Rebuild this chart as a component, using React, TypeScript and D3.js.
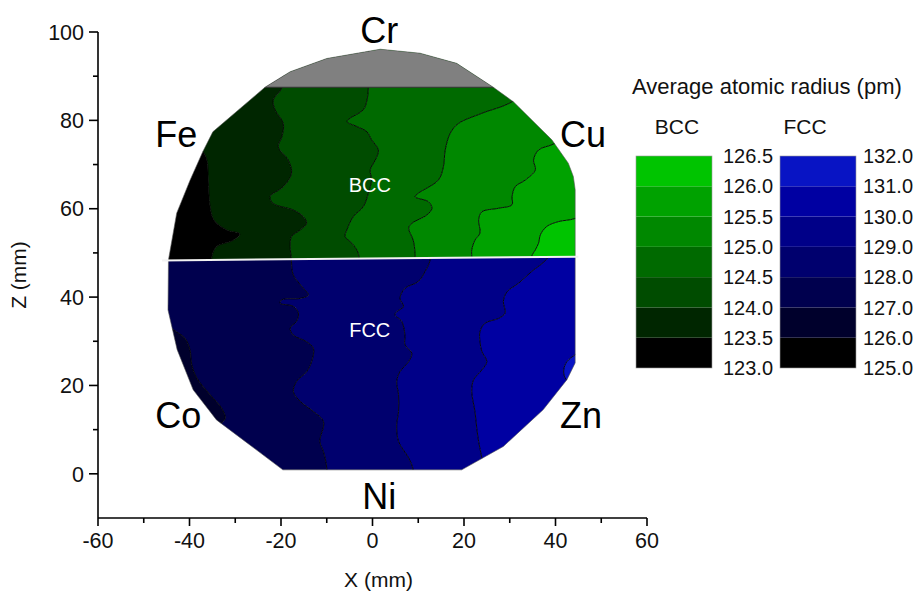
import React from "react";
import * as d3 from "d3";

type Pt = [number, number];

const W = 917;
const H = 596;

// Axis ticks (mm)
const X_MAJOR = [-60, -40, -20, 0, 20, 40, 60];
const X_MINOR = [-50, -30, -10, 10, 30, 50];
const Z_MAJOR = [0, 20, 40, 60, 80, 100];
const Z_MINOR = [10, 30, 50, 70, 90];

// Colour-bar levels (pm) and fills
const BCC_LEVELS = [123.0, 123.5, 124.0, 124.5, 125.0, 125.5, 126.0, 126.5];
const FCC_LEVELS = [125.0, 126.0, 127.0, 128.0, 129.0, 130.0, 131.0, 132.0];
const BCC_COLORS = ["#000000", "#002600", "#004c00", "#006a00", "#008800", "#00a200", "#00c400"];
const FCC_COLORS = ["#000000", "#00002c", "#00004e", "#00006e", "#000088", "#0000a2", "#0814c4"];

// Wafer outline, x/z in mm
const WAFER: Pt[] = [
  [-23.5, 87.5], [-18, 91], [-10, 94], [1.7, 96.1], [10.4, 95.2], [18.4, 92.9], [26.4, 87.5],
  [30.8, 84.2], [39.2, 75.6], [42.8, 70.3], [43.9, 67.3], [44.3, 64.3], [44.3, 25.1],
  [42.5, 21.3], [37.3, 14.5], [28.6, 6.2], [19.5, 0.9], [-19.6, 0.9], [-27.4, 7],
  [-34.1, 12.2], [-39.2, 19], [-42.7, 28.1], [-44.7, 37.1], [-44.6, 48.4], [-42.8, 59.0],
  [-39.9, 66.4], [-37.1, 72.9], [-34.9, 77.4],
];

// Phase boundary (BCC above, FCC below) and Cr cap edge
const DIVIDER: Pt[] = [[-46, 48.3], [45, 49.15]];
const CAP_Z = 87.5;

// BCC iso-radius contours (top to bottom)
const BCC_123_5: Pt[] = [[-70, 100], [-50, 82], [-37.3, 73.2], [-36.2, 71], [-35.9, 66.5], [-35.5, 60.5], [-34.7, 57.5], [-31.9, 55.2], [-29, 54.3], [-30.4, 52.9], [-34.1, 51.4], [-35.1, 49.2], [-35.1, 44]];
const BCC_124_0: Pt[] = [[-19.8, 100], [-19.8, 87.5], [-21.7, 84.6], [-21.3, 82.4], [-19.5, 79.3], [-19.8, 76.3], [-20.6, 74], [-18.4, 71], [-17.7, 68], [-19.5, 65], [-22.4, 62.7], [-21.7, 61.2], [-17.3, 59.7], [-15.1, 58.2], [-14.4, 56.7], [-15.8, 55.2], [-17.7, 53.7], [-18, 51.4], [-17.7, 48.4], [-17.7, 44]];
const BCC_124_5: Pt[] = [[-0.9, 100], [-0.9, 87.5], [-1.2, 84.6], [-2, 82.4], [-4.9, 80.5], [-5.6, 79.7], [-3.4, 78.6], [-1.2, 77.4], [-0.2, 75.6], [1.3, 73.3], [0.6, 71], [-0.5, 68.8], [-0.2, 66.5], [-0.9, 63.5], [-2, 60.5], [-4.2, 58.2], [-5.6, 55.2], [-6, 53.7], [-4.5, 52.2], [-3.1, 49.9], [-3, 44]];
const BCC_125_0: Pt[] = [[70, 100], [40, 92], [30.5, 84.2], [23.9, 81.6], [18.8, 79.3], [17, 77.1], [15.9, 73.3], [15.5, 69.5], [14.4, 66.5], [10, 63.5], [9.3, 62.7], [12.2, 61.6], [13, 60.1], [11.9, 58.6], [8.6, 56.7], [7.9, 55.6], [8.9, 52.9], [9.3, 49.9], [9.3, 44]];
const BCC_125_5: Pt[] = [[70, 95], [50, 82], [39.9, 74.8], [36.3, 73.3], [35.2, 71], [35.6, 68.8], [33.4, 66.5], [31.2, 65], [30.5, 62.7], [30.5, 60.9], [27.5, 60.1], [23.9, 59.3], [23.2, 57.5], [23.5, 54.5], [22.4, 52.9], [21.7, 50.7], [21.7, 49.2], [21.7, 44]];
const BCC_126_0: Pt[] = [[70, 90], [52, 62], [44.3, 57.8], [40.7, 57.1], [38.1, 56], [36.7, 54.1], [36.3, 52.2], [35.6, 50.7], [34.8, 49.2], [34.8, 44]];

// FCC iso-radius contours (top to bottom)
const FCC_127: Pt[] = [[-70, 60], [-50, 38], [-43.5, 32.6], [-41, 30.7], [-39.9, 28.1], [-39.5, 24.7], [-38.4, 21.7], [-35.5, 17.9], [-33, 14.9], [-32.2, 12.6], [-33.5, 11], [-45, 0], [-70, -10]];
const FCC_128: Pt[] = [[-17.7, 55], [-17.7, 48], [-17.3, 45], [-15.1, 42], [-14, 40.5], [-15.8, 39.7], [-19.8, 39.4], [-20.2, 38.6], [-17.3, 37.9], [-16.2, 36.4], [-16.6, 34.5], [-18, 33], [-17.3, 31.4], [-14.4, 29.9], [-12.9, 28.4], [-13.3, 25.4], [-14.4, 23.1], [-16.6, 20.9], [-17.3, 18.6], [-15.8, 16.4], [-12.9, 14.1], [-10.7, 11.8], [-11.5, 7.3], [-10.7, 5], [-10, 1.3], [-10, -10]];
const FCC_129: Pt[] = [[12.6, 55], [12.6, 48.4], [11.5, 45.8], [10, 43.5], [7.1, 42], [6, 39.7], [6.8, 37.9], [5.3, 36.7], [4.9, 36], [6.4, 34.5], [7.1, 31.4], [7.1, 29.2], [8.6, 27.3], [7.9, 25.4], [6, 23.1], [5.3, 20.9], [5.7, 17.9], [5.7, 14.1], [5.3, 11.1], [5.7, 7.3], [7.9, 3.6], [8.9, 0.9], [9, -10]];
const FCC_130: Pt[] = [[42, 55], [38.1, 48.6], [34.8, 45.8], [31.9, 43.1], [29.4, 41.2], [28.6, 39], [29, 36.4], [27.6, 35.2], [24.6, 34.1], [23.5, 32.2], [23.5, 29.9], [23.9, 27.7], [25, 25.4], [23.9, 23.5], [22.1, 21.3], [21.7, 18.6], [22.4, 14.1], [22.8, 10.3], [23.2, 7.3], [23.9, 3.6], [24.5, 0], [25, -10]];
const FCC_131: Pt[] = [[70, 55], [55, 35], [44.6, 27.2], [42.5, 25.4], [41.8, 23.5], [42.1, 21.7], [43.5, 20.3], [55, 10], [70, -10]];

const BCC_CONTOURS = [
  { level: 123.5, pts: BCC_123_5 },
  { level: 124.0, pts: BCC_124_0 },
  { level: 124.5, pts: BCC_124_5 },
  { level: 125.0, pts: BCC_125_0 },
  { level: 125.5, pts: BCC_125_5 },
  { level: 126.0, pts: BCC_126_0 },
];
const FCC_CONTOURS = [
  { level: 127, pts: FCC_127 },
  { level: 128, pts: FCC_128 },
  { level: 129, pts: FCC_129 },
  { level: 130, pts: FCC_130 },
  { level: 131, pts: FCC_131 },
];

const ELEMENTS = [
  { name: "Cr", x: 1.5, z: 97.5, anchor: "middle" },
  { name: "Fe", x: -47.5, z: 74, anchor: "start" },
  { name: "Cu", x: 41, z: 74, anchor: "start" },
  { name: "Co", x: -47.5, z: 10.3, anchor: "start" },
  { name: "Zn", x: 41, z: 10.3, anchor: "start" },
  { name: "Ni", x: 1.5, z: -8, anchor: "middle" },
];

const FONT = "'Liberation Sans', Arial, sans-serif";

export default function App() {
  const x = d3.scaleLinear().domain([-60, 60]).range([98, 647]);
  const z = d3.scaleLinear().domain([-10, 100]).range([518, 32]);

  const smooth = d3
    .line<Pt>()
    .x((d) => x(d[0]))
    .y((d) => z(d[1]))
    .curve(d3.curveCatmullRom.alpha(0.5));
  const straight = d3
    .line<Pt>()
    .x((d) => x(d[0]))
    .y((d) => z(d[1]));

  const band = (a: Pt[], b: Pt[]) =>
    (smooth(a) || "") + (smooth([...b].reverse()) || "").replace(/^M/, "L") + "Z";

  const divZ = d3.scaleLinear().domain([DIVIDER[0][0], DIVIDER[1][0]]).range([DIVIDER[0][1], DIVIDER[1][1]]);
  const bccClip: Pt[] = [[-70, 100], [70, 100], [70, divZ(70)], [-70, divZ(-70)]];
  const fccClip: Pt[] = [[-70, divZ(-70)], [70, divZ(70)], [70, -20], [-70, -20]];
  const capClip: Pt[] = [[-70, 110], [70, 110], [70, CAP_Z], [-70, CAP_Z]];

  function bands(
    contours: { level: number; pts: Pt[] }[],
    levels: number[],
    colors: string[],
    top: number,
    bottom: number
  ) {
    const step = levels[1] - levels[0];
    const farL: Pt[] = [[-70, top], [-70, bottom]];
    const farR: Pt[] = [[70, top], [70, bottom]];
    const edges = [farL, ...contours.map((c) => c.pts), farR];
    const lows = [contours[0].level - step, ...contours.map((c) => c.level)];
    return edges.slice(0, -1).map((e, i) => {
      const idx = levels.findIndex((l) => Math.abs(l - lows[i]) < 1e-6);
      return { d: band(e, edges[i + 1]), fill: colors[idx] };
    });
  }

  const bccBands = bands(BCC_CONTOURS, BCC_LEVELS, BCC_COLORS, 100, 44);
  const fccBands = bands(FCC_CONTOURS, FCC_LEVELS, FCC_COLORS, 60, -10);

  // colour bars
  const bccBar = d3.scaleLinear().domain([123, 126.5]).range([368, 156]);
  const fccBar = d3.scaleLinear().domain([125, 132]).range([368, 156]);
  const fmt = d3.format(".1f");

  const legendBar = (
    scale: d3.ScaleLinear<number, number>,
    levels: number[],
    colors: string[],
    x0: number,
    labelX: number,
    key: string
  ) => (
    <g key={key}>
      {levels.slice(0, -1).map((l, i) => (
        <rect
          key={l}
          x={x0}
          width={76}
          y={scale(levels[i + 1])}
          height={scale(l) - scale(levels[i + 1])}
          fill={colors[i]}
        />
      ))}
      <rect
        x={x0}
        width={76}
        y={scale(levels[levels.length - 1])}
        height={scale(levels[0]) - scale(levels[levels.length - 1])}
        fill="none"
        stroke="#9a9a9a"
        strokeWidth={0.6}
      />
      {levels.map((l) => (
        <text
          key={"t" + l}
          x={labelX}
          y={scale(l)}
          dy="0.36em"
          fontSize={20}
          fontFamily={FONT}
          fill="#111"
        >
          {fmt(l)}
        </text>
      ))}
    </g>
  );

  return (
    <svg
      width={W}
      height={H}
      style={{ position: "absolute", left: 0, top: 0, background: "#fff" }}
    >
      <defs>
        <clipPath id="wafer">
          <path d={straight(WAFER) + "Z"} />
        </clipPath>
        <clipPath id="bcc">
          <path d={straight(bccClip) + "Z"} />
        </clipPath>
        <clipPath id="fcc">
          <path d={straight(fccClip) + "Z"} />
        </clipPath>
        <clipPath id="cap">
          <path d={straight(capClip) + "Z"} />
        </clipPath>
      </defs>

      <g clipPath="url(#wafer)">
        <g clipPath="url(#bcc)">
          {bccBands.map((b, i) => (
            <path key={i} d={b.d} fill={b.fill} />
          ))}
          {BCC_CONTOURS.map((c) => (
            <path key={c.level} d={smooth(c.pts) || ""} fill="none" stroke="#000" strokeWidth={0.9} />
          ))}
        </g>
        <g clipPath="url(#fcc)">
          {fccBands.map((b, i) => (
            <path key={i} d={b.d} fill={b.fill} />
          ))}
          {FCC_CONTOURS.map((c) => (
            <path key={c.level} d={smooth(c.pts) || ""} fill="none" stroke="#000" strokeWidth={0.9} />
          ))}
        </g>
        <g clipPath="url(#cap)">
          <path d={straight(WAFER) + "Z"} fill="#808080" />
        </g>
        <line
          x1={x(-60)}
          x2={x(60)}
          y1={z(CAP_Z)}
          y2={z(CAP_Z)}
          stroke="#333"
          strokeWidth={1.2}
        />
      </g>
      <path d={straight(WAFER) + "Z"} fill="none" stroke="#555" strokeWidth={0.6} />
      <line
        x1={x(DIVIDER[0][0])}
        y1={z(DIVIDER[0][1])}
        x2={x(DIVIDER[1][0])}
        y2={z(DIVIDER[1][1])}
        stroke="#f2f2f2"
        strokeWidth={2}
      />

      <text x={x(-0.6)} y={z(65.5)} dy="0.36em" fontSize={20} fontFamily={FONT} fill="#fff" textAnchor="middle">
        BCC
      </text>
      <text x={x(-0.6)} y={z(32.5)} dy="0.36em" fontSize={20} fontFamily={FONT} fill="#fff" textAnchor="middle">
        FCC
      </text>

      {ELEMENTS.map((e) => (
        <text
          key={e.name}
          x={x(e.x)}
          y={z(e.z)}
          fontSize={36}
          fontFamily={FONT}
          fill="#000"
          textAnchor={e.anchor as any}
        >
          {e.name}
        </text>
      ))}

      {/* axes */}
      <g stroke="#000" strokeWidth={1.6} fill="none">
        <line x1={x(-60)} x2={x(-60)} y1={z(-10)} y2={z(100)} />
        <line x1={x(-60)} x2={x(60)} y1={z(-10)} y2={z(-10)} />
        {X_MAJOR.map((t) => (
          <line key={"xM" + t} x1={x(t)} x2={x(t)} y1={z(-10)} y2={z(-10) + 8} />
        ))}
        {X_MINOR.map((t) => (
          <line key={"xm" + t} x1={x(t)} x2={x(t)} y1={z(-10)} y2={z(-10) + 5} />
        ))}
        {Z_MAJOR.map((t) => (
          <line key={"zM" + t} x1={x(-60)} x2={x(-60) - 9} y1={z(t)} y2={z(t)} />
        ))}
        {Z_MINOR.map((t) => (
          <line key={"zm" + t} x1={x(-60)} x2={x(-60) - 5} y1={z(t)} y2={z(t)} />
        ))}
      </g>
      <g fontFamily={FONT} fontSize={21.5} fill="#111">
        {X_MAJOR.map((t) => (
          <text key={"xl" + t} x={x(t)} y={z(-10) + 30} textAnchor="middle">
            {t}
          </text>
        ))}
        {Z_MAJOR.map((t) => (
          <text key={"zl" + t} x={x(-60) - 14} y={z(t)} dy="0.36em" textAnchor="end">
            {t}
          </text>
        ))}
      </g>
      <text x={x(0) + 6} y={587} textAnchor="middle" fontSize={21} fontFamily={FONT} fill="#111">
        X (mm)
      </text>
      <text
        transform={`translate(26,${z(45)}) rotate(-90)`}
        textAnchor="middle"
        fontSize={21}
        fontFamily={FONT}
        fill="#111"
      >
        Z (mm)
      </text>

      {/* colour bars */}
      <text x={632} y={94} fontSize={22} fontFamily={FONT} fill="#111">
        Average atomic radius (pm)
      </text>
      <text x={677} y={134} fontSize={21} fontFamily={FONT} fill="#111" textAnchor="middle">
        BCC
      </text>
      <text x={805} y={134} fontSize={21} fontFamily={FONT} fill="#111" textAnchor="middle">
        FCC
      </text>
      {legendBar(bccBar, BCC_LEVELS, BCC_COLORS, 636, 723, "bcc")}
      {legendBar(fccBar, FCC_LEVELS, FCC_COLORS, 780, 863, "fcc")}
    </svg>
  );
}
